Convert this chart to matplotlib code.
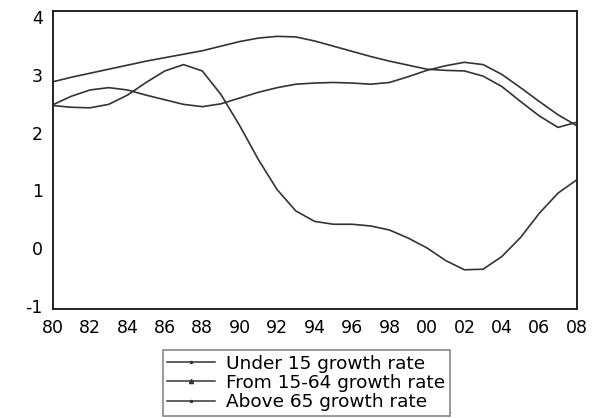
import matplotlib.pyplot as plt
from matplotlib.lines import Line2D
import numpy as np

plt.rcParams['font.family'] = ['DejaVu Sans']
plt.rcParams['axes.unicode_minus'] = False

years = np.arange(1980, 2009)
under15 = [2.47, 2.44, 2.43, 2.49, 2.65, 2.87, 3.07, 3.18, 3.07, 2.66,
           2.12, 1.53, 1.01, 0.64, 0.46, 0.41, 0.41, 0.38, 0.31, 0.17,
           0.00, -0.22, -0.38, -0.37, -0.15, 0.18, 0.60, 0.95, 1.18]
from15_64 = [2.48, 2.63, 2.74, 2.78, 2.74, 2.65, 2.57, 2.49, 2.45, 2.50,
             2.60, 2.70, 2.78, 2.84, 2.86, 2.87, 2.86, 2.84, 2.87, 2.97,
             3.08, 3.16, 3.22, 3.18, 3.01, 2.78, 2.54, 2.31, 2.12]
above65 = [2.88, 2.96, 3.03, 3.10, 3.17, 3.24, 3.30, 3.36, 3.42, 3.50,
           3.58, 3.64, 3.67, 3.66, 3.59, 3.50, 3.41, 3.32, 3.24, 3.17,
           3.10, 3.08, 3.07, 2.98, 2.80, 2.54, 2.29, 2.09, 2.18]
labels = ["Under 15 growth rate", "From 15-64 growth rate", "Above 65 growth rate"]
xtick_years = np.arange(1980, 2009, 2)
xtick_labels = ["%02d" % (y % 100) for y in xtick_years]

fig = plt.figure(figsize=(5.98, 4.18), dpi=100)
ax = fig.add_axes([0.0878, 0.2608, 0.8766, 0.7129])

col = "#333333"
for s in (under15, from15_64, above65):
    ax.plot(years, s, color=col, lw=1.2)

ax.set_xlim(1980, 2008)
ax.set_ylim(-1.06, 4.11)
ax.set_xticks(xtick_years)
ax.set_xticklabels(xtick_labels)
ax.set_yticks([-1, 0, 1, 2, 3, 4])
ax.tick_params(length=0, labelsize=12.5, pad=7)
for sp in ax.spines.values():
    sp.set_linewidth(1.4)
    sp.set_color("#222222")

handles = [Line2D([], [], color=col, lw=1.1, marker=m, markersize=3)
           for m in (".", "^", ".")]
leg = fig.legend(handles, labels, loc="upper left",
                 bbox_to_anchor=(0.272, 0.163), bbox_transform=fig.transFigure,
                 borderaxespad=0, fancybox=False, fontsize=13.3,
                 handlelength=2.6, handletextpad=0.55, labelspacing=0.07,
                 borderpad=0.26, framealpha=1)
leg.get_frame().set_edgecolor("#888888")
leg.get_frame().set_linewidth(1.2)

fig.savefig("out.png", dpi=100)
